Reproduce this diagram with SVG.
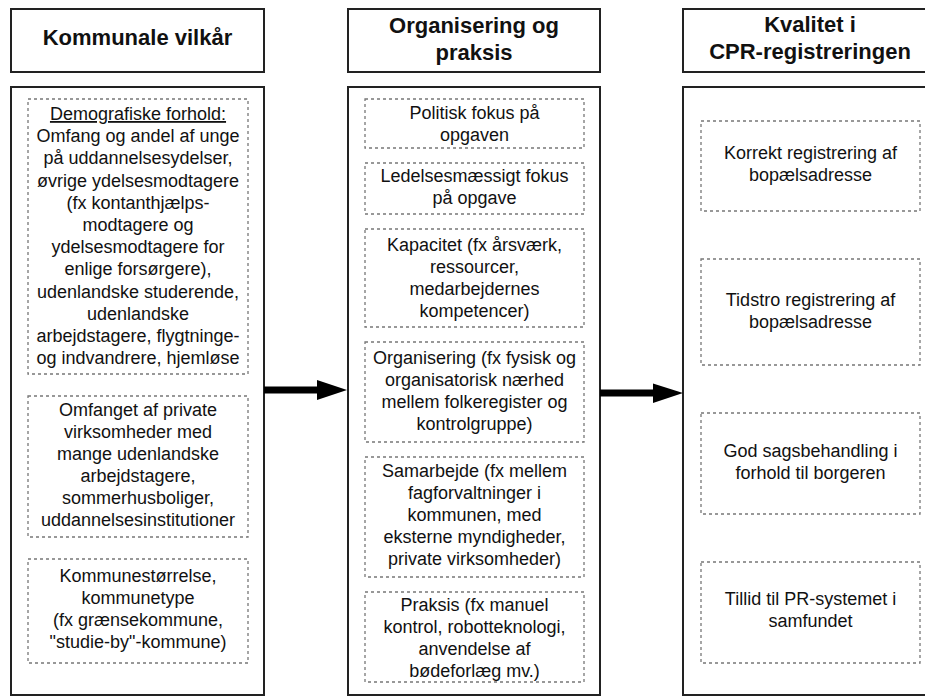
<svg xmlns="http://www.w3.org/2000/svg" width="925" height="696" viewBox="0 0 925 696">
<style>
.box{fill:#fff;stroke:#222;stroke-width:2}
.dbox{fill:none;stroke:#777;stroke-width:1.3;stroke-dasharray:3 3}
.h{font-family:"Liberation Sans",Arial,sans-serif;font-weight:bold;font-size:22px;fill:#111;text-anchor:middle}
.t{font-family:"Liberation Sans",Arial,sans-serif;font-size:18px;fill:#111;text-anchor:middle}
.arrow{fill:#000}
</style>
<rect width="925" height="696" fill="#fff"/>
<g id="col1">
<g id="h1"><rect class="box" x="11" y="9" width="253" height="63"/><text class="h" x="137.5" y="45">Kommunale vilkår</text></g>
<g id="b1"><rect class="box" x="11" y="87" width="253" height="608"/></g>
<g id="c1a"><rect class="dbox" x="28" y="99" width="220" height="275"/>
<text class="t" x="138" y="120"><tspan text-decoration="underline">Demografiske forhold:</tspan><tspan x="138" dy="22.2">Omfang og andel af unge</tspan><tspan x="138" dy="22.2">på uddannelsesydelser,</tspan><tspan x="138" dy="22.2">øvrige ydelsesmodtagere</tspan><tspan x="138" dy="22.2">(fx kontanthjælps-</tspan><tspan x="138" dy="22.2">modtagere og</tspan><tspan x="138" dy="22.2">ydelsesmodtagere for</tspan><tspan x="138" dy="22.2">enlige forsørgere),</tspan><tspan x="138" dy="22.2">udenlandske studerende,</tspan><tspan x="138" dy="22.2">udenlandske</tspan><tspan x="138" dy="22.2">arbejdstagere, flygtninge-</tspan><tspan x="138" dy="22.2">og indvandrere, hjemløse</tspan></text></g>
<g id="c1b"><rect class="dbox" x="28" y="396" width="220" height="141"/>
<text class="t" x="138" y="416"><tspan>Omfanget af private</tspan><tspan x="138" dy="22">virksomheder med</tspan><tspan x="138" dy="22">mange udenlandske</tspan><tspan x="138" dy="22">arbejdstagere,</tspan><tspan x="138" dy="22">sommerhusboliger,</tspan><tspan x="138" dy="22">uddannelsesinstitutioner</tspan></text></g>
<g id="c1c"><rect class="dbox" x="28" y="559" width="220" height="104"/>
<text class="t" x="138" y="582"><tspan>Kommunestørrelse,</tspan><tspan x="138" dy="22">kommunetype</tspan><tspan x="138" dy="22">(fx grænsekommune,</tspan><tspan x="138" dy="22">"studie-by"-kommune)</tspan></text></g>
</g>
<g id="col2">
<g id="h2"><rect class="box" x="348" y="9" width="252" height="63"/><text class="h" x="474" y="33"><tspan>Organisering og</tspan><tspan x="474" dy="27">praksis</tspan></text></g>
<g id="b2"><rect class="box" x="348" y="87" width="252" height="608"/></g>
<g id="c2a"><rect class="dbox" x="365" y="99" width="219" height="49"/>
<text class="t" x="474.5" y="119"><tspan>Politisk fokus på</tspan><tspan x="474.5" dy="22">opgaven</tspan></text></g>
<g id="c2b"><rect class="dbox" x="365" y="163" width="219" height="51"/>
<text class="t" x="474.5" y="182"><tspan>Ledelsesmæssigt fokus</tspan><tspan x="474.5" dy="22">på opgave</tspan></text></g>
<g id="c2c"><rect class="dbox" x="365" y="229" width="219" height="98"/>
<text class="t" x="474.5" y="251"><tspan>Kapacitet (fx årsværk,</tspan><tspan x="474.5" dy="22">ressourcer,</tspan><tspan x="474.5" dy="22">medarbejdernes</tspan><tspan x="474.5" dy="22">kompetencer)</tspan></text></g>
<g id="c2d"><rect class="dbox" x="365" y="342" width="219" height="100"/>
<text class="t" x="474.5" y="364"><tspan>Organisering (fx fysisk og</tspan><tspan x="474.5" dy="22">organisatorisk nærhed</tspan><tspan x="474.5" dy="22">mellem folkeregister og</tspan><tspan x="474.5" dy="22">kontrolgruppe)</tspan></text></g>
<g id="c2e"><rect class="dbox" x="365" y="457" width="219" height="120"/>
<text class="t" x="474.5" y="477"><tspan>Samarbejde (fx mellem</tspan><tspan x="474.5" dy="22">fagforvaltninger i</tspan><tspan x="474.5" dy="22">kommunen, med</tspan><tspan x="474.5" dy="22">eksterne myndigheder,</tspan><tspan x="474.5" dy="22">private virksomheder)</tspan></text></g>
<g id="c2f"><rect class="dbox" x="365" y="592" width="219" height="90"/>
<text class="t" x="474.5" y="611"><tspan>Praksis (fx manuel</tspan><tspan x="474.5" dy="22">kontrol, robotteknologi,</tspan><tspan x="474.5" dy="22">anvendelse af</tspan><tspan x="474.5" dy="22">bødeforlæg mv.)</tspan></text></g>
</g>
<g id="col3">
<g id="h3"><rect class="box" x="683" y="9" width="254" height="63"/><text class="h" x="810" y="32"><tspan>Kvalitet i</tspan><tspan x="810" dy="27">CPR-registreringen</tspan></text></g>
<g id="b3"><rect class="box" x="683" y="87" width="254" height="608"/></g>
<g id="c3a"><rect class="dbox" x="701" y="121" width="219" height="90"/>
<text class="t" x="810.5" y="159"><tspan>Korrekt registrering af</tspan><tspan x="810.5" dy="22">bopælsadresse</tspan></text></g>
<g id="c3b"><rect class="dbox" x="701" y="259" width="219" height="106"/>
<text class="t" x="810.5" y="306"><tspan>Tidstro registrering af</tspan><tspan x="810.5" dy="22">bopælsadresse</tspan></text></g>
<g id="c3c"><rect class="dbox" x="701" y="413" width="219" height="101"/>
<text class="t" x="810.5" y="457"><tspan>God sagsbehandling i</tspan><tspan x="810.5" dy="22">forhold til borgeren</tspan></text></g>
<g id="c3d"><rect class="dbox" x="701" y="562" width="219" height="101"/>
<text class="t" x="810.5" y="605"><tspan>Tillid til PR-systemet i</tspan><tspan x="810.5" dy="22">samfundet</tspan></text></g>
</g>
<g id="connectors">
<g id="a1"><rect class="arrow" x="264" y="386.5" width="55" height="7"/><polygon class="arrow" points="317,380 347,390 317,400"/></g>
<g id="a2"><rect class="arrow" x="600" y="389.5" width="55" height="7"/><polygon class="arrow" points="653,383.5 683,393 653,403"/></g>
</g>
</svg>
